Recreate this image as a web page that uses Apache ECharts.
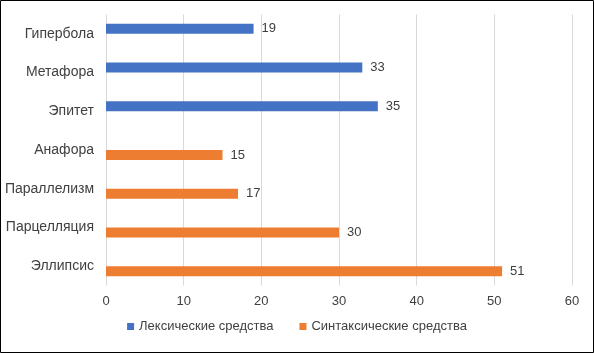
<!DOCTYPE html>
<html>
<head>
<meta charset="utf-8">
<script src="https://cdn.jsdelivr.net/npm/echarts@6/dist/echarts.min.js"></script>
<style>
html,body{margin:0;padding:0;background:#fff;}
#chart{width:594px;height:353px;}
</style>
</head>
<body>
<div id="chart"></div>
<script>
// категории сверху вниз
var categories = ['Гипербола', 'Метафора', 'Эпитет', 'Анафора', 'Параллелизм', 'Парцелляция', 'Эллипсис'];
var lexicalName = 'Лексические средства';
var syntaxName = 'Синтаксические средства';
var lexicalValues = [19, 33, 35, null, null, null, null];
var syntaxValues = [null, null, null, 15, 17, 30, 51];
var xTicks = [0, 60, 10]; // min, max, interval

var font = '"Liberation Sans", Arial, sans-serif';
var textColor = '#404040';

var myChart = echarts.init(document.getElementById('chart'));

var labelOpt = {show: true, position: 'right', distance: 8, color: textColor, fontSize: 13, fontFamily: font};

var option = {
	animation: false,
	backgroundColor: '#fff',
	grid: {left: 106, right: 22, top: 14.5, height: 271, containLabel: false},
	xAxis: {
		type: 'value', min: xTicks[0], max: xTicks[1], interval: xTicks[2],
		axisLine: {show: false}, axisTick: {show: false},
		splitLine: {lineStyle: {color: '#d9d9d9'}},
		axisLabel: {color: textColor, fontSize: 13, fontFamily: font, margin: 9}
	},
	yAxis: {
		type: 'category', data: categories, inverse: true,
		axisLine: {show: false}, axisTick: {show: false},
		axisLabel: {color: textColor, fontSize: 14, fontFamily: font, margin: 12}
	},
	legend: {
		bottom: 15, left: 'center', itemWidth: 7, itemHeight: 7, itemGap: 26,
		icon: 'rect',
		textStyle: {color: textColor, fontSize: 13, fontFamily: font}
	},
	series: [
		{name: lexicalName, type: 'bar', data: lexicalValues, barWidth: 10, barGap: '0%',
			itemStyle: {color: '#4472c4'}, label: labelOpt},
		{name: syntaxName, type: 'bar', data: syntaxValues, barWidth: 10, barGap: '0%',
			itemStyle: {color: '#ed7d31'}, label: labelOpt}
	],
	graphic: [{type: 'rect', shape: {x: 0.5, y: 0.5, width: 593, height: 352},
		style: {fill: 'none', stroke: '#000', lineWidth: 1}, silent: true}]
};
myChart.setOption(option);
</script>
</body>
</html>
